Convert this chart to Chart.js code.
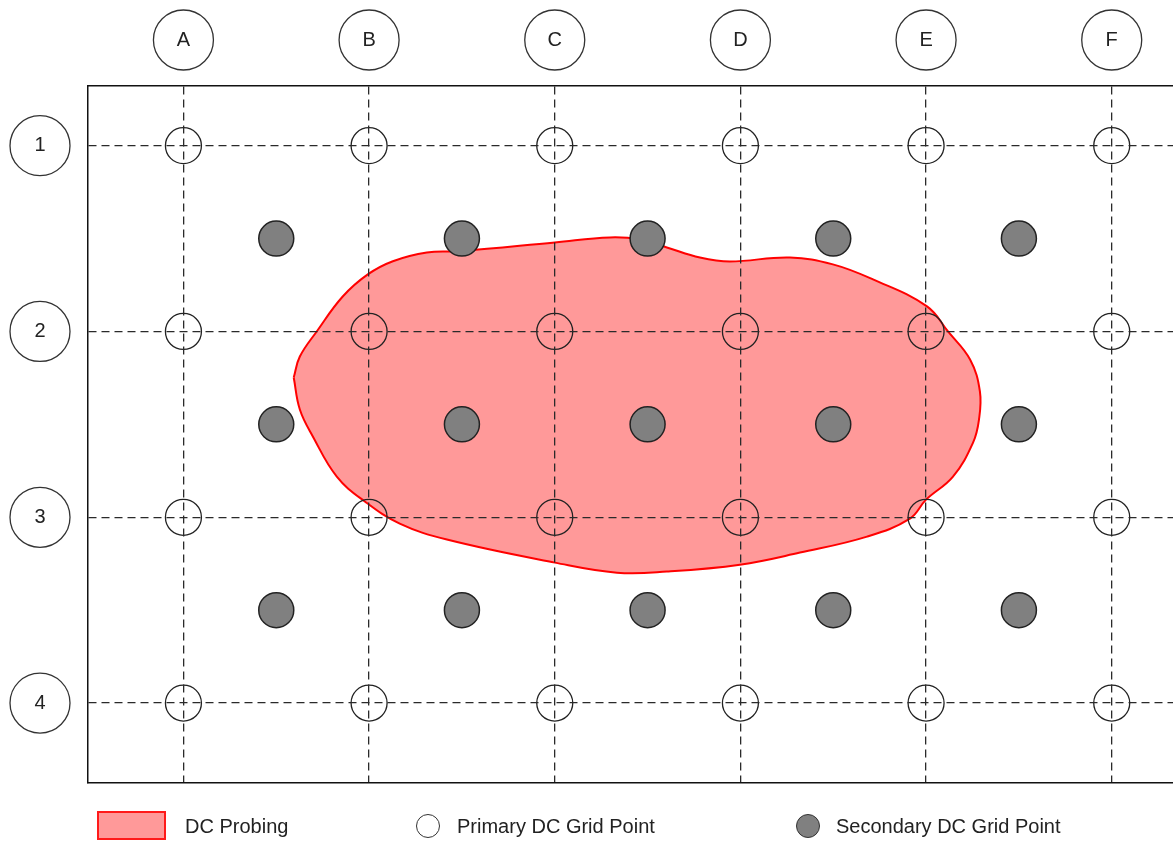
<!DOCTYPE html>
<html>
<head>
<meta charset="utf-8">
<script src="https://cdn.jsdelivr.net/npm/chart.js@4.4.1/dist/chart.umd.min.js"></script>
<style>
  html, body { margin: 0; padding: 0; background: #fff; }
  #wrap { position: relative; width: 1173px; height: 841px; overflow: hidden; font-family: "Liberation Sans", Arial, sans-serif; color: #222; }
  #c { position: absolute; left: 0; top: 0; }
  .lg { position: absolute; font-size: 20px; line-height: 24px; height: 24px; white-space: nowrap; }
  .sw { position: absolute; box-sizing: border-box; }
</style>
</head>
<body>
<div id="wrap">
  <canvas id="c" width="1173" height="841"></canvas>
  <div class="sw" style="left:97px; top:811px; width:69px; height:29px; background:#ff9999; border:2px solid #ff1a1a;"></div>
  <div class="lg" style="left:185px; top:814px;">DC Probing</div>
  <div class="sw" style="left:416px; top:814px; width:24px; height:24px; border-radius:50%; background:#fff; border:1.5px solid #333;"></div>
  <div class="lg" style="left:457px; top:814px;">Primary DC Grid Point</div>
  <div class="sw" style="left:796px; top:814px; width:24px; height:24px; border-radius:50%; background:#808080; border:1.5px solid #333;"></div>
  <div class="lg" style="left:836px; top:814px;">Secondary DC Grid Point</div>
</div>
<script>
// ---- Data ----
const colLabels = ['A', 'B', 'C', 'D', 'E', 'F'];
const rowLabels = ['1', '2', '3', '4'];
const primaryCols = [1, 2, 3, 4, 5, 6];
const primaryRows = [1, 2, 3, 4];
const secondaryCols = [1.5, 2.5, 3.5, 4.5, 5.5];
const secondaryRows = [1.5, 2.5, 3.5];
// DC probing outline (grid units: column index, row index)
const probeX = [1.594, 1.627, 1.718, 1.858, 1.993, 2.128, 2.311, 2.489, 3.001, 3.297, 3.459, 3.604, 3.782, 3.943, 4.267, 4.498, 4.714, 5.005, 5.118, 5.237, 5.290, 5.285, 5.253, 5.145, 5.000, 4.913, 4.682, 4.321, 3.997, 3.604, 3.335, 3.001, 2.419, 2.165, 1.977, 1.826, 1.697, 1.627, 1.594];
const probeY = [2.248, 2.135, 2.000, 1.812, 1.693, 1.622, 1.575, 1.568, 1.521, 1.494, 1.505, 1.548, 1.602, 1.623, 1.602, 1.639, 1.720, 1.865, 2.000, 2.151, 2.323, 2.474, 2.598, 2.781, 2.905, 3.007, 3.104, 3.190, 3.255, 3.292, 3.298, 3.244, 3.120, 3.034, 2.915, 2.781, 2.565, 2.420, 2.248];

const FONT = '"Liberation Sans", Arial, sans-serif';

const primaryPts = [];
primaryRows.forEach(r => primaryCols.forEach(c => primaryPts.push({x: c, y: r})));
const secondaryPts = [];
secondaryRows.forEach(r => secondaryCols.forEach(c => secondaryPts.push({x: c, y: r})));
const probePts = probeX.map((x, i) => ({x: x, y: probeY[i]}));

const labelCircles = {
  id: 'labelCircles',
  afterDraw(chart) {
    const ctx = chart.ctx;
    const xs = chart.scales.x, ys = chart.scales.y;
    ctx.save();
    ctx.strokeStyle = '#333';
    ctx.lineWidth = 1.3;
    primaryCols.forEach(v => {
      ctx.beginPath();
      ctx.arc(xs.getPixelForValue(v), 40, 30, 0, Math.PI * 2);
      ctx.stroke();
    });
    primaryRows.forEach(v => {
      ctx.beginPath();
      ctx.arc(40, ys.getPixelForValue(v), 30, 0, Math.PI * 2);
      ctx.stroke();
    });
    ctx.restore();
  }
};

new Chart(document.getElementById('c'), {
  type: 'scatter',
  data: {
    datasets: [
      {
        label: 'Secondary DC Grid Point',
        data: secondaryPts,
        pointRadius: 17.5,
        pointHoverRadius: 17.5,
        backgroundColor: '#808080',
        borderColor: '#222',
        borderWidth: 1.5,
        order: 1
      },
      {
        label: 'Primary DC Grid Point',
        data: primaryPts,
        pointRadius: 18,
        pointHoverRadius: 18,
        backgroundColor: 'rgba(0,0,0,0)',
        borderColor: '#222',
        borderWidth: 1.3,
        order: 2
      },
      {
        type: 'line',
        label: 'DC Probing',
        data: probePts,
        showLine: true,
        fill: 'shape',
        tension: 0.4,
        pointRadius: 0,
        borderColor: '#ff0000',
        borderWidth: 2,
        backgroundColor: '#ff9999',
        order: 10
      }
    ]
  },
  options: {
    responsive: false,
    animation: false,
    devicePixelRatio: 1,
    layout: { autoPadding: false, padding: { top: 0, left: 0, right: 0, bottom: 58 } },
    plugins: { legend: { display: false }, tooltip: { enabled: false } },
    events: [],
    scales: {
      x: {
        type: 'linear',
        position: 'top',
        min: 0.486,
        max: 6.33,
        afterBuildTicks: s => { s.ticks = primaryCols.map(v => ({value: v})); },
        afterFit: s => { s.height = 86; s.paddingLeft = 0; s.paddingRight = 0; },
        ticks: {
          callback: (v, i) => colLabels[i],
          font: { size: 20, family: FONT },
          color: '#222',
          padding: 34,
          maxRotation: 0,
          autoSkip: false,
          z: 1
        },
        grid: { color: '#2a2a2a', lineWidth: 1.3, drawTicks: false, z: 1 },
        border: { display: true, color: '#111', width: 1.5, dash: [8, 5], z: 2 }
      },
      x2: {
        type: 'linear',
        position: 'bottom',
        min: 0, max: 1,
        afterFit: s => { s.height = 0; s.paddingLeft = 0; s.paddingRight = 0; },
        ticks: { display: false },
        grid: { display: false },
        border: { display: true, color: '#111', width: 1.5, z: 2 }
      },
      y: {
        type: 'linear',
        position: 'left',
        reverse: true,
        min: 0.679,
        max: 4.43,
        afterBuildTicks: s => { s.ticks = primaryRows.map(v => ({value: v})); },
        afterFit: s => { s.width = 88; s.paddingTop = 0; s.paddingBottom = 0; },
        ticks: {
          callback: (v, i) => rowLabels[i],
          font: { size: 20, family: FONT },
          color: '#222',
          padding: 42.4,
          crossAlign: 'center',
          autoSkip: false,
          z: 1
        },
        grid: { color: '#2a2a2a', lineWidth: 1.3, drawTicks: false, z: 1 },
        border: { display: true, color: '#111', width: 1.5, dash: [8, 5], z: 2 }
      }
    }
  },
  plugins: [labelCircles]
});
</script>
</body>
</html>
